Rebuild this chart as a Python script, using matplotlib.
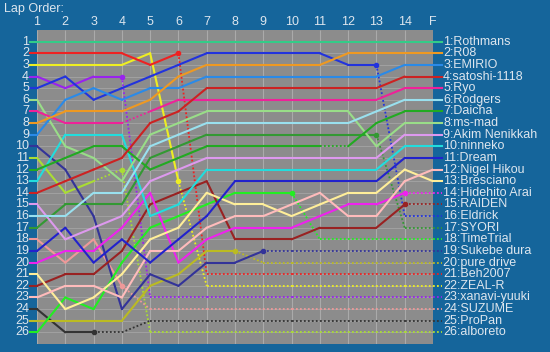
import matplotlib
matplotlib.use('Agg')
import matplotlib.pyplot as plt

# lap columns
lap_labels = ['1', '2', '3', '4', '5', '6', '7', '8', '9', '10', '11', '12', '13', '14', 'F']

names = ['Rothmans', 'R08', 'EMIRIO', 'satoshi-1118', 'Ryo', 'Rodgers', 'Daicha',
         'ms-mad', 'Akim Nenikkah', 'ninneko', 'Dream', 'Nigel Hikou', 'Bresciano',
         'Hidehito Arai', 'RAIDEN', 'Eldrick', 'SYORI', 'TimeTrial', 'Sukebe dura',
         'pure drive', 'Beh2007', 'ZEAL-R', 'xanavi-yuuki', 'SUZUME', 'ProPan', 'alboreto']

colors = ['#33cc88', '#ee9922', '#2a8ae8', '#cc2222', '#ee2299', '#99e0ee', '#22aa22',
          '#99dd88', '#dd99ee', '#22dddd', '#2222cc', '#ffbbbb', '#ffee99',
          '#ee22ee', '#992222', '#2233dd', '#339933', '#22ee22', '#333399',
          '#bbbb22', '#ee2222', '#eeee22', '#9922ee', '#ee9999', '#333333', '#aadd33']

# position at laps 1..14 and F
positions = [
    [1, 1, 1, 1, 1, 1, 1, 1, 1, 1, 1, 1, 1, 1, 1],
    [8, 7, 7, 7, 6, 4, 3, 3, 3, 3, 3, 2, 2, 2, 2],
    [9, 6, 5, 6, 5, 5, 4, 4, 4, 4, 4, 4, 4, 3, 3],
    [14, 13, 12, 11, 8, 7, 5, 5, 5, 5, 5, 5, 5, 4, 4],
    [7, 8, 8, 8, 7, 6, 6, 6, 6, 6, 6, 6, 6, 5, 5],
    [16, 16, 14, 14, 10, 9, 8, 8, 8, 8, 8, 8, 7, 6, 6],
    [12, 11, 10, 10, 12, 11, 10, 10, 10, 10, 10, 10, 8, 7, 7],
    [6, 10, 11, 13, 9, 8, 7, 7, 7, 7, 7, 7, 10, 8, 8],
    [15, 18, 17, 16, 13, 12, 11, 11, 11, 11, 11, 11, 11, 9, 9],
    [13, 9, 9, 9, 16, 15, 12, 12, 12, 12, 12, 12, 12, 10, 10],
    [19, 17, 20, 18, 20, 18, 16, 13, 13, 13, 13, 13, 13, 11, 11],
    [23, 22, 22, 23, 19, 19, 17, 16, 16, 15, 14, 16, 16, 13, 12],
    [21, 24, 23, 21, 18, 17, 14, 15, 15, 16, 15, 14, 14, 12, 13],
    [20, 19, 19, 17, 14, 20, 18, 17, 17, 17, 16, 15, 15, 14, 14],
    [22, 21, 21, 19, 15, 14, 13, 18, 18, 18, 17, 17, 17, 15, 15],
    [5, 4, 6, 5, 4, 3, 2, 2, 2, 2, 2, 3, 3, 16, 16],
    [17, 15, 15, 15, 11, 10, 9, 9, 9, 9, 9, 9, 9, 17, 17],
    [26, 23, 24, 20, 17, 16, 15, 14, 14, 14, 18, 18, 18, 18, 18],
    [10, 12, 16, 24, 21, 22, 20, 20, 19, 19, 19, 19, 19, 19, 19],
    [25, 25, 25, 25, 22, 21, 19, 19, 20, 20, 20, 20, 20, 20, 20],
    [2, 2, 2, 2, 3, 2, 21, 21, 21, 21, 21, 21, 21, 21, 21],
    [3, 3, 3, 3, 2, 13, 22, 22, 22, 22, 22, 22, 22, 22, 22],
    [4, 5, 4, 4, 23, 23, 23, 23, 23, 23, 23, 23, 23, 23, 23],
    [18, 20, 18, 22, 24, 24, 24, 24, 24, 24, 24, 24, 24, 24, 24],
    [24, 26, 26, 26, 25, 25, 25, 25, 25, 25, 25, 25, 25, 25, 25],
    [11, 14, 13, 12, 26, 26, 26, 26, 26, 26, 26, 26, 26, 26, 26],
]

# last lap drawn solid (15 = reached the flag)
last_solid = [15, 15, 15, 15, 15, 15, 15, 15, 15, 15, 15, 15, 15, 14, 14, 13, 13,
              10, 9, 8, 6, 6, 4, 4, 3, 4]
# extra dotted segments (start lap) inside the solid part
dotted_gaps = {4: [4], 6: [11], 25: [3]}

bg = '#15659b'
txt = '#dde6ee'
plt.rcParams['font.family'] = ['Liberation Sans', 'DejaVu Sans']
fs = 8.5

fig = plt.figure(figsize=(5.5, 3.52), dpi=100, facecolor=bg)
ax = fig.add_axes([37 / 550, 8 / 352, 396 / 550, 314 / 352])
ax.set_facecolor('#8c8c8c')
ax.set_xlim(1, 15)
ax.set_ylim(27, 0)
ax.set_xticks([])
ax.set_yticks([])
for s in ax.spines.values():
    s.set_visible(False)

laps = list(range(1, 16))
ax.vlines(laps, 0, 27, color='#aaaaaa', lw=0.8, zorder=1)
ax.hlines(range(1, 27), 1, 15, color='#a4a4a4', lw=0.6, zorder=1)

lw = 1.5
dot = (0, (1, 1.2))
for i in reversed(range(len(names))):
    p = positions[i]
    c = colors[i]
    gaps = dotted_gaps.get(i, [])
    for k in range(14):
        dotted = (k + 1) >= last_solid[i] or (k + 1) in gaps
        ax.plot(laps[k:k + 2], p[k:k + 2], color=c, lw=lw if not dotted else 1.3,
                linestyle=dot if dotted else '-', solid_capstyle='round', zorder=3)
    if last_solid[i] < 15:
        j = last_solid[i] - 1
        ax.plot(laps[j], p[j], 'o', color=c, ms=3, zorder=4)
    # stubs outside the grid
    ax.plot([0.75, 1], [p[0], p[0]], color=c, lw=lw, clip_on=False, zorder=3)
    end_dotted = last_solid[i] < 15
    ax.plot([15, 15.32], [p[-1], p[-1]], color=c, lw=lw if not end_dotted else 1.3,
            linestyle=dot if end_dotted else '-', clip_on=False, zorder=3)
    ax.text(15.36, p[-1], f'{i + 1}:{names[i]}', color=txt, fontsize=fs + 0.5,
            ha='left', va='center', clip_on=False)

for r in range(1, 27):
    ax.text(0.72, r, str(r), color=txt, fontsize=fs + 0.5, ha='right', va='center')
for x, lbl in zip(laps, lap_labels):
    ax.text(x, -0.65, lbl, color=txt, fontsize=fs + 0.5, ha='center', va='center')

fig.text(4 / 550, 1 - 9 / 352, 'Lap Order:', color=txt, fontsize=fs + 0.5, ha='left', va='center')

fig.savefig('out.png', dpi=100, facecolor=bg)
